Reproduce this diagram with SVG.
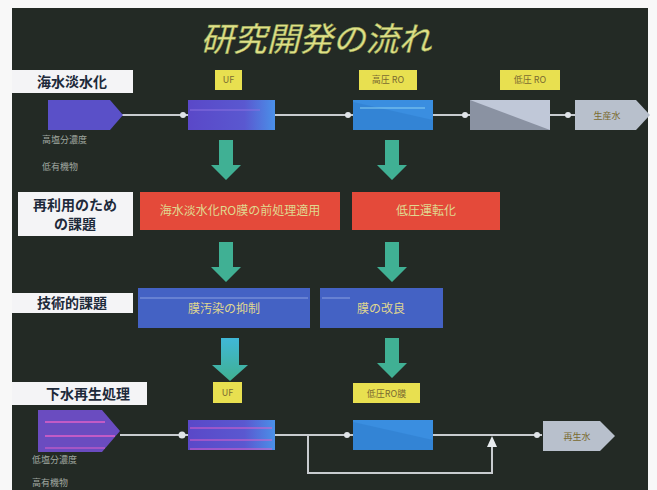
<svg xmlns="http://www.w3.org/2000/svg" width="657" height="490" viewBox="0 0 657 490">
<defs>
<style>
.jp{font-family:"Noto Sans CJK JP","Noto Sans",sans-serif}
.row{fill:#f4f4f6}
.rowt{font-family:"Noto Sans CJK JP",sans-serif;font-weight:bold;font-size:14px;fill:#1e2a3a}
.yl{fill:#e8e050}
.ylt{font-family:"Noto Sans CJK JP",sans-serif;font-size:9px;fill:#7a6a30}
.sm{font-family:"Noto Sans CJK JP",sans-serif;font-size:9px;fill:#a0a8a0}
.bt{font-family:"Noto Sans CJK JP",sans-serif;font-size:12px;fill:#e0d890}
.ln{stroke:#c8ccd0;stroke-width:2;fill:none}
.dot{fill:#e0e4e8}
.ga{fill:#40b094}
</style>
<linearGradient id="ufg" x1="0" y1="0" x2="1" y2="0">
<stop offset="0" stop-color="#5a48c8"/><stop offset="0.65" stop-color="#5a58d0"/><stop offset="1" stop-color="#4a90e8"/>
</linearGradient>
<linearGradient id="bag" x1="0" y1="0" x2="0" y2="1">
<stop offset="0" stop-color="#40b8d8"/><stop offset="1" stop-color="#40b090"/>
</linearGradient>
</defs>
<rect x="0" y="0" width="657" height="490" fill="#f8f8f8"/>
<rect x="12" y="8" width="636" height="482" fill="#232a25"/>
<text x="316" y="51" text-anchor="middle" class="jp" font-size="33" font-style="italic" fill="#e0e088" stroke="#90a050" stroke-width="0.5">研究開発の流れ</text>

<g id="connectors">
<line class="ln" x1="122" y1="115" x2="188" y2="115"/>
<circle class="dot" cx="183" cy="115" r="3"/>
<line class="ln" x1="275" y1="115" x2="353" y2="115"/>
<circle class="dot" cx="348" cy="115" r="3"/>
<line class="ln" x1="433" y1="115" x2="470" y2="115"/>
<circle class="dot" cx="465" cy="115" r="3"/>
<line class="ln" x1="550" y1="115" x2="575" y2="115"/>
<circle class="dot" cx="568" cy="115" r="3"/>
<line class="ln" x1="120" y1="435" x2="188" y2="435"/>
<circle class="dot" cx="182" cy="435" r="3.5"/>
<line class="ln" x1="275" y1="435" x2="353" y2="435"/>
<circle class="dot" cx="347" cy="435" r="3"/>
<line class="ln" x1="433" y1="435" x2="542" y2="435"/>
<circle class="dot" cx="537" cy="435" r="3"/>
<polyline class="ln" points="308,435 308,473 492,473 492,444"/>
<polygon points="492,436 487,447 497,447" fill="#e8ecef"/>
<polygon class="ga" points="219,140 233,140 233,165 241,165 226,180 211,165 219,165"/>
<polygon class="ga" points="385,140 399,140 399,165 407,165 392,180 377,165 385,165"/>
<polygon class="ga" points="219,242 233,242 233,267 241,267 226,282 211,267 219,267"/>
<polygon class="ga" points="385,242 399,242 399,267 407,267 392,282 377,267 385,267"/>
<polygon fill="url(#bag)" points="221,338 239,338 239,365 248,365 230,381 212,365 221,365"/>
<polygon class="ga" points="385,338 399,338 399,363 407,363 392,378 377,363 385,363"/>
</g>

<g id="row-sea">
<rect class="row" x="12" y="70" width="121" height="23"/>
<text class="rowt" x="72" y="87" text-anchor="middle">海水淡水化</text>
</g>
<g id="row-reuse">
<rect class="row" x="18" y="192" width="115" height="44"/>
<text class="rowt" x="75" y="210" text-anchor="middle">再利用のため</text>
<text class="rowt" x="75" y="229" text-anchor="middle">の課題</text>
</g>
<g id="row-tech">
<rect class="row" x="12" y="293" width="121" height="20"/>
<text class="rowt" x="72" y="308" text-anchor="middle">技術的課題</text>
</g>
<g id="row-sewage">
<rect class="row" x="12" y="382" width="135" height="23"/>
<text class="rowt" x="88" y="399" text-anchor="middle">下水再生処理</text>
</g>

<g id="lbl-uf1"><rect class="yl" x="215" y="70" width="27" height="20"/><text class="ylt" x="228.5" y="83" text-anchor="middle">UF</text></g>
<g id="lbl-hro"><rect class="yl" x="359" y="70" width="58" height="20"/><text class="ylt" x="388" y="83" text-anchor="middle">高圧 RO</text></g>
<g id="lbl-lro"><rect class="yl" x="500" y="70" width="60" height="20"/><text class="ylt" x="530" y="83" text-anchor="middle">低圧 RO</text></g>
<g id="lbl-uf2"><rect class="yl" x="213" y="382" width="29" height="21"/><text class="ylt" x="227.5" y="396" text-anchor="middle">UF</text></g>
<g id="lbl-lro2"><rect class="yl" x="353" y="383" width="67" height="20"/><text class="ylt" x="386.5" y="397" text-anchor="middle">低圧RO膜</text></g>

<g id="sea-in">
<polygon points="48,100 110,100 123,115 110,130 48,130" fill="#5a50c8"/>
<text class="sm" x="42" y="143">高塩分濃度</text>
<text class="sm" x="42" y="170">低有機物</text>
</g>
<g id="sea-uf">
<rect x="188" y="100" width="87" height="30" fill="url(#ufg)"/>
<line x1="190" y1="110" x2="260" y2="110" stroke="#8a70e0" stroke-width="1"/>
</g>
<g id="sea-hro">
<rect x="353" y="100" width="80" height="30" fill="#3a8ee0"/>
<polygon points="353,102 433,120 433,130 353,130" fill="#3080d0" opacity="0.7"/>
<line x1="360" y1="108" x2="425" y2="108" stroke="#8ad0f0" stroke-width="1"/>
</g>
<g id="sea-lro">
<rect x="470" y="100" width="80" height="30" fill="#c0c8d8"/>
<polygon points="470,100 550,130 470,130" fill="#8a92a2"/>
</g>
<g id="sea-out">
<polygon points="575,100 636,100 650,115 636,130 575,130" fill="#b8c0cc"/>
<text class="ylt" x="607" y="119" text-anchor="middle" fill="#505870">生産水</text>
</g>

<g id="ch-1">
<rect x="140" y="192" width="200" height="38" fill="#e44a3a"/>
<text class="bt" x="240" y="215" text-anchor="middle" font-size="11">海水淡水化RO膜の前処理適用</text>
</g>
<g id="ch-2">
<rect x="352" y="192" width="148" height="38" fill="#e44a3a"/>
<text class="bt" x="426" y="215" text-anchor="middle" font-size="11">低圧運転化</text>
</g>
<g id="tc-1">
<rect x="138" y="288" width="172" height="40" fill="#4462c4"/>
<line x1="140" y1="298" x2="308" y2="298" stroke="#8aa0e0" stroke-width="1"/>
<text class="bt" x="224" y="313" text-anchor="middle">膜汚染の抑制</text>
</g>
<g id="tc-2">
<rect x="320" y="288" width="123" height="40" fill="#4462c4"/>
<line x1="322" y1="298" x2="350" y2="298" stroke="#8aa0e0" stroke-width="1"/>
<text class="bt" x="381" y="313" text-anchor="middle">膜の改良</text>
</g>

<g id="sw-in">
<polygon points="38,410 102,410 120,431 102,452 38,452" fill="#6a4cc0"/>
<line x1="45" y1="422" x2="105" y2="422" stroke="#e060c8" stroke-width="1.5"/>
<line x1="45" y1="436" x2="115" y2="436" stroke="#e060c8" stroke-width="1.5"/>
<line x1="45" y1="448" x2="105" y2="448" stroke="#e060c8" stroke-width="1"/>
<text class="sm" x="32" y="463">低塩分濃度</text>
<text class="sm" x="32" y="486">高有機物</text>
</g>
<g id="sw-uf">
<rect x="188" y="420" width="87" height="30" fill="url(#ufg)"/>
<line x1="190" y1="428" x2="272" y2="428" stroke="#e060c8" stroke-width="1.2"/>
<line x1="190" y1="440" x2="272" y2="440" stroke="#e060c8" stroke-width="1.2"/>
<line x1="190" y1="449" x2="272" y2="449" stroke="#e060c8" stroke-width="1"/>
</g>
<g id="sw-ro">
<rect x="353" y="420" width="80" height="30" fill="#3a8ee0"/>
<polygon points="353,422 433,440 433,450 353,450" fill="#3080d0" opacity="0.7"/>
</g>
<g id="sw-out">
<polygon points="543,421 600,421 615,436 600,451 543,451" fill="#b8c0cc"/>
<text class="ylt" x="577" y="440" text-anchor="middle" fill="#505870">再生水</text>
</g>
</svg>
